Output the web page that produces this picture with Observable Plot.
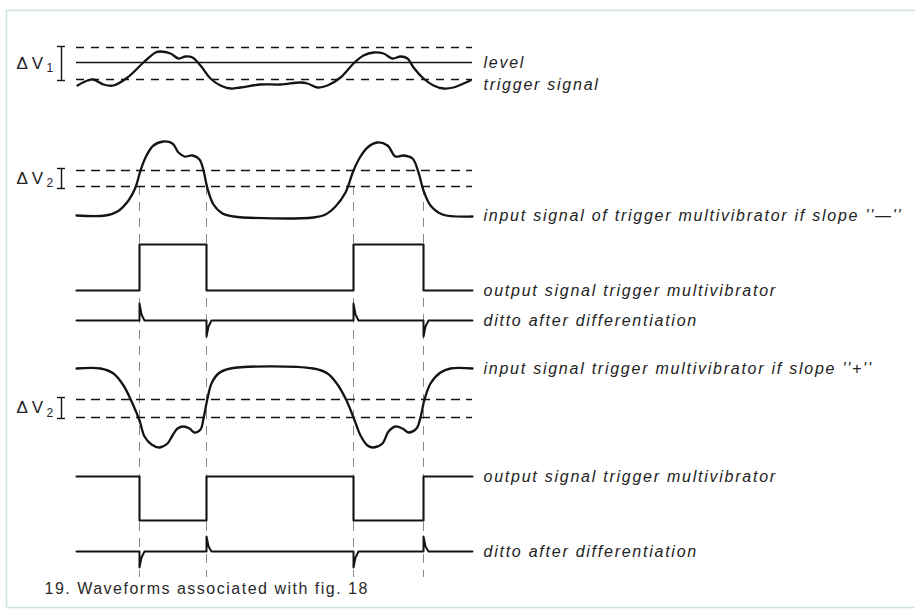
<!DOCTYPE html>
<html>
<head>
<meta charset="utf-8">
<script src="https://cdn.jsdelivr.net/npm/d3@7"></script>
<script src="https://cdn.jsdelivr.net/npm/@observablehq/plot@0.6"></script>
<style>
  html, body { margin: 0; padding: 0; background: #fff; }
  g[aria-description="labels"] text { letter-spacing: 1.75px; }
  g[aria-description="caption"] text { letter-spacing: 1.5px; }
</style>
</head>
<body>
<div id="chart"></div>
<script>
// ---- horizontal: time position, vertical: level position ----
const traceSpan = [76, 472];
const edgeTimes = [139, 206, 353, 423];          // switching instants (vertical dashed guides)
const guideSpan = [186, 577];

// row 1: trigger signal and level
const trigT = [77, 87, 93, 103, 113, 127, 143, 155, 160, 170, 178, 185, 192, 200, 210, 220, 230, 240, 260, 280, 300, 307, 317, 327, 340, 353, 363, 373, 383, 392, 400, 407, 413, 423, 433, 443, 453, 463, 470];
const trigV = [85, 80, 79, 84, 85, 77, 62, 52, 51, 53, 58, 56, 57, 65, 78, 85, 88, 87, 84, 84, 82, 83, 87, 85, 77, 63, 55, 52, 53, 58, 56, 58, 67, 78, 85, 88, 87, 83, 80];
const levelLine = [62];
const levelBand = [47, 79];

// row 2: input signal, slope "-"
const inMinusT = [76, 105, 117, 128, 135, 140, 146, 153, 163, 172, 178, 184, 192, 199, 203, 207, 213, 222, 233, 313, 325, 335, 345, 353, 360, 367, 377, 387, 395, 403, 412, 418, 423, 430, 442, 472];
const inMinusV = [215, 215, 211, 200, 187, 170, 155, 145, 141, 143, 152, 156, 155, 159, 170, 188, 204, 213, 216, 217, 214, 206, 192, 170, 156, 147, 142, 145, 156, 155, 158, 172, 190, 205, 214, 216];
const hystMinus = [170, 186];

// row 3: output signal, slope "-"
const outT = [76, 139, 139, 206, 206, 353, 353, 423, 423, 472];
const outMinusV = [290, 290, 244, 244, 290, 290, 244, 244, 290, 290];

// row 4: ditto after differentiation
const diffT = [76, 139, 139, 141, 144, 206, 206, 208, 211, 353, 353, 355, 358, 423, 423, 425, 428, 472];
const diffMinusV = [320, 320, 303, 314, 320, 320, 336, 326, 320, 320, 303, 314, 320, 320, 336, 326, 320, 320];

// row 5: input signal, slope "+"
const inPlusT = [76, 100, 113, 123, 132, 139, 144, 151, 159, 167, 172, 177, 183, 189, 194, 200, 203, 207, 211, 218, 230, 313, 327, 337, 346, 353, 360, 367, 373, 382, 388, 395, 402, 408, 416, 420, 424, 430, 440, 450, 472];
const inPlusV = [368, 368, 373, 385, 403, 420, 436, 444, 447, 443, 435, 428, 426, 428, 432, 429, 418, 398, 383, 373, 368, 368, 373, 384, 400, 417, 435, 445, 447, 443, 431, 426, 428, 432, 428, 417, 399, 383, 372, 368, 368];
const hystPlus = [399, 417];

// row 6: output signal, slope "+"
const outPlusV = [476, 476, 520, 520, 476, 476, 520, 520, 476, 476];

// row 7: ditto after differentiation
const diffPlusV = [551, 551, 567, 557, 551, 551, 536, 546, 551, 551, 567, 557, 551, 551, 536, 546, 551, 551];

// ΔV brackets
const bracketNames = ["Δ V", "Δ V", "Δ V"];
const bracketSubs = ["1", "2", "2"];
const bracketLo = [46, 168, 397];
const bracketHi = [80, 188, 418];

// right-hand labels
const labelTexts = [
  "level",
  "trigger signal",
  "input signal of trigger multivibrator if slope ''\u2014''",
  "output signal trigger multivibrator",
  "ditto after differentiation",
  "input signal trigger multivibrator if slope ''+''",
  "output signal trigger multivibrator",
  "ditto after differentiation"
];
const labelLevels = [62, 84, 215, 290, 320, 368, 476, 551];

const captionText = "19. Waveforms associated with fig. 18";

// ---- tables built from the arrays ----
const zip = (T, V) => T.map((t, i) => ({t, v: V[i]}));
const trig = zip(trigT, trigV);
const inMinus = zip(inMinusT, inMinusV);
const inPlus = zip(inPlusT, inPlusV);
const outMinus = zip(outT, outMinusV);
const outPlus = zip(outT, outPlusV);
const diffMinus = zip(diffT, diffMinusV);
const diffPlus = zip(diffT, diffPlusV);
const brackets = bracketNames.map((n, i) => ({n, sub: bracketSubs[i], lo: bracketLo[i], hi: bracketHi[i], mid: (bracketLo[i] + bracketHi[i]) / 2}));
const labels = labelTexts.map((s, i) => ({s, v: labelLevels[i]}));

const ink = "#141414";
const dash = "9,6";

const chart = Plot.plot({
  width: 915,
  height: 610,
  margin: 0,
  x: {domain: [0, 915], axis: null},
  y: {domain: [0, 610], reverse: true, axis: null},
  style: {fontFamily: "'Liberation Sans', Arial, Helvetica, sans-serif", background: "#fff"},
  marks: [
    // page frame
    Plot.ruleY([10, 607], {x1: 6, x2: 915, stroke: "#cfe3dc", strokeWidth: 1.5}),
    Plot.ruleX([6], {y1: 10, y2: 607, stroke: "#cfe3dc", strokeWidth: 1.5}),
    // vertical guides
    Plot.ruleX(edgeTimes, {y1: guideSpan[0], y2: guideSpan[1], stroke: "#8a8a8a", strokeWidth: 1, strokeDasharray: "9,7"}),
    // thresholds
    Plot.ruleY(levelBand, {x1: traceSpan[0], x2: traceSpan[1], stroke: ink, strokeWidth: 1.6, strokeDasharray: "8,7"}),
    Plot.ruleY(levelLine, {x1: traceSpan[0], x2: traceSpan[1], stroke: ink, strokeWidth: 1.6}),
    Plot.ruleY(hystMinus, {x1: traceSpan[0], x2: traceSpan[1], stroke: ink, strokeWidth: 1.6, strokeDasharray: dash}),
    Plot.ruleY(hystPlus, {x1: traceSpan[0], x2: traceSpan[1], stroke: ink, strokeWidth: 1.6, strokeDasharray: dash}),
    // waveforms
    Plot.line(trig, {x: "t", y: "v", curve: "catmull-rom", stroke: ink, strokeWidth: 2.3}),
    Plot.line(inMinus, {x: "t", y: "v", curve: "catmull-rom", stroke: ink, strokeWidth: 2.3}),
    Plot.line(inPlus, {x: "t", y: "v", curve: "catmull-rom", stroke: ink, strokeWidth: 2.3}),
    Plot.line(outMinus, {x: "t", y: "v", stroke: ink, strokeWidth: 2.1}),
    Plot.line(outPlus, {x: "t", y: "v", stroke: ink, strokeWidth: 2.1}),
    Plot.line(diffMinus, {x: "t", y: "v", stroke: ink, strokeWidth: 2}),
    Plot.line(diffPlus, {x: "t", y: "v", stroke: ink, strokeWidth: 2}),
    // ΔV brackets
    Plot.ruleX(brackets, {x: () => 61, y1: "lo", y2: "hi", stroke: ink, strokeWidth: 1.4}),
    Plot.ruleY(brackets, {y: "lo", x1: () => 57, x2: () => 65, stroke: ink, strokeWidth: 1.4}),
    Plot.ruleY(brackets, {y: "hi", x1: () => 57, x2: () => 65, stroke: ink, strokeWidth: 1.4}),
    Plot.text(brackets, {x: () => 16, y: "mid", text: "n", textAnchor: "start", fontSize: 17, fill: "#222"}),
    Plot.text(brackets, {x: () => 46, y: "mid", dy: 5, text: "sub", textAnchor: "start", fontSize: 12, fill: "#222"}),
    // labels
    Plot.text(labels, {x: () => 483, y: "v", text: "s", textAnchor: "start", fontSize: 16, fontStyle: "italic", fill: "#222", ariaDescription: "labels"}),
    Plot.text([captionText], {x: () => 44, y: () => 588, text: d => d, textAnchor: "start", fontSize: 16, fill: "#2a2a2a", ariaDescription: "caption"})
  ]
});
document.getElementById("chart").appendChild(chart);
</script>
</body>
</html>
